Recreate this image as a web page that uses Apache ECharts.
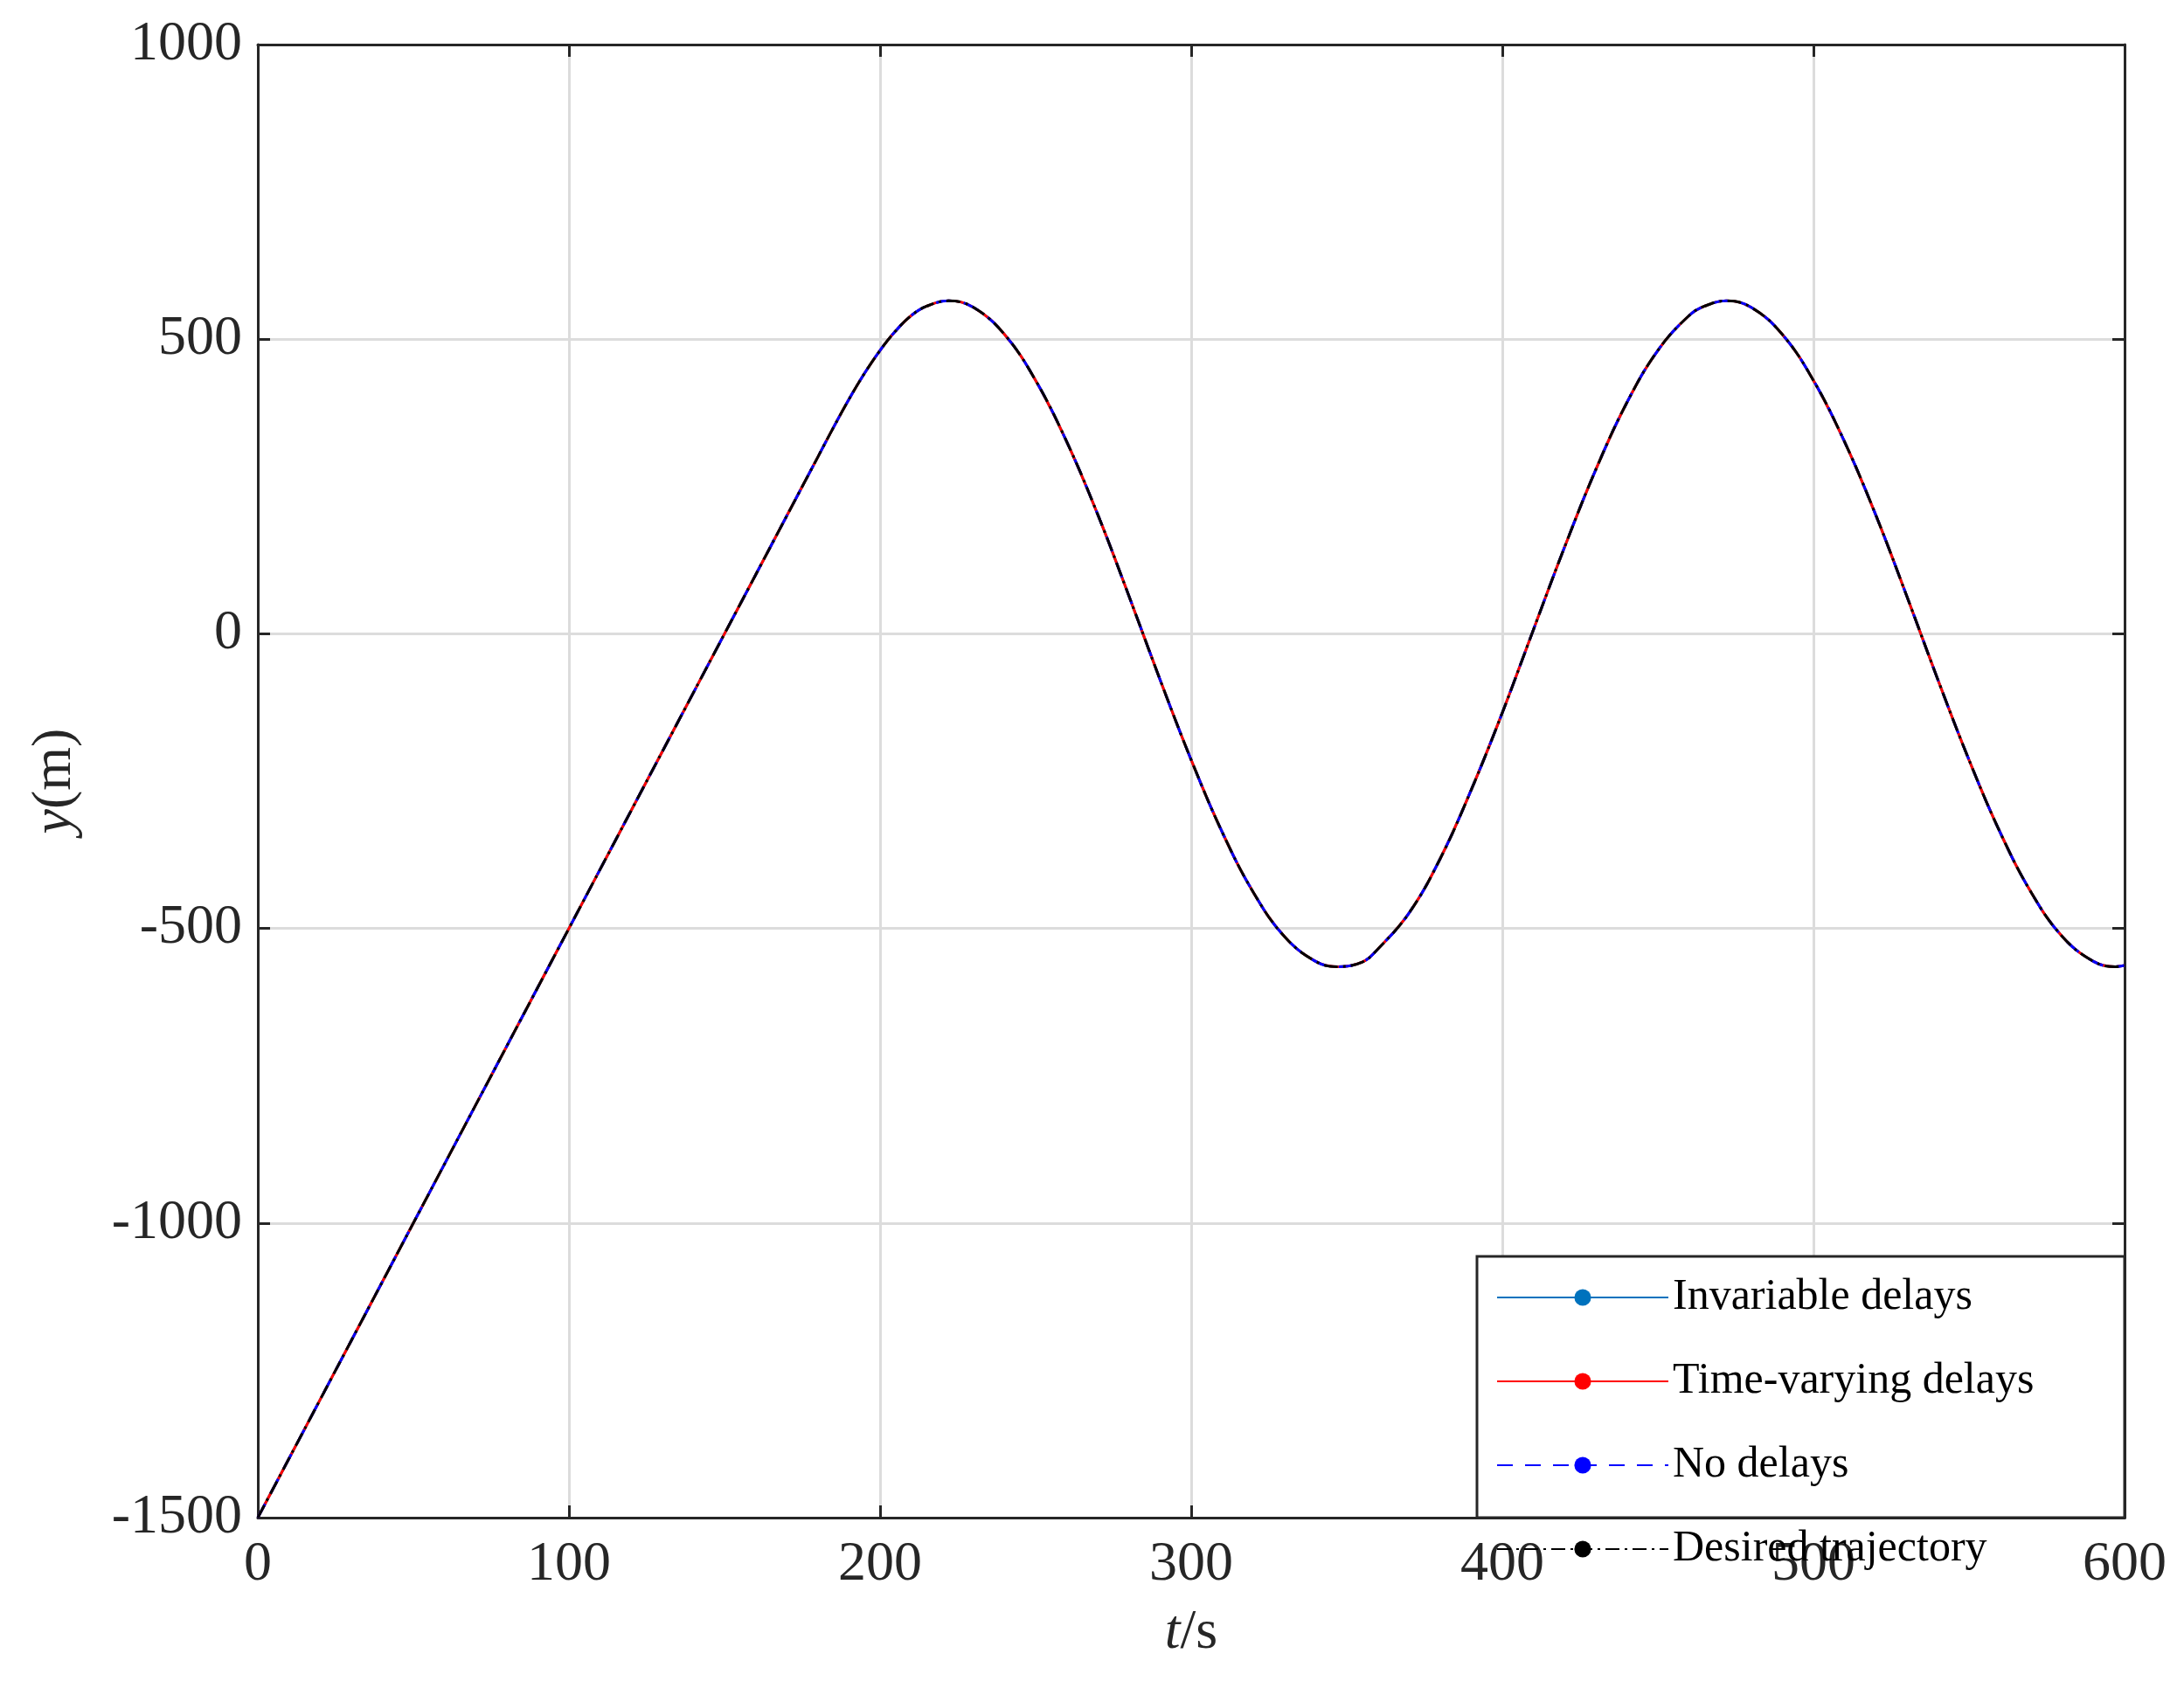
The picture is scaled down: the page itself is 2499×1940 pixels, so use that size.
<!DOCTYPE html>
<html><head><meta charset="utf-8">
<script src="https://cdn.jsdelivr.net/npm/echarts@6/dist/echarts.min.js"></script>
<style>html,body{margin:0;padding:0;background:#fff}#c{width:2499px;height:1940px}</style>
</head><body><div id="c"></div>
<script>
const seriesNames = ['Invariable delays','Time-varying delays','No delays','Desired trajectory'];
const tValues = [0,10,20,30,40,50,60,70,80,90,100,110,120,130,140,150,160,170,180,185,190,195,200,205,210,215,222,230,240,250,260,270,280,290,300,310,320,330,340,347,355,360,370,380,390,400,410,420,430,440,450,460,465,472,480,490,500,510,520,530,540,550,560,570,580,590,597,600];
const yValues = [-1500,-1400,-1300,-1200,-1100,-1000,-900,-800,-700,-600,-500,-400,-300,-200,-100,0,100,200,300,350,398,442,481,514,540,556,565,554,508,430,326,202,64,-78,-214,-337,-439,-514,-556,-565,-557,-535,-474,-382,-265,-134,7,147,278,392,481,540,556,565,554,508,430,326,202,64,-78,-214,-337,-439,-514,-556,-565,-563];
const xTicks = [0,100,200,300,400,500,600];
const yTicks = [-1500,-1000,-500,0,500,1000];
const pts = tValues.map((t,i)=>[t,yValues[i]]);
const FONT = 'Liberation Serif';
const styles = [
  {color:'#0072BD', type:'solid'},
  {color:'#FF0000', type:'solid'},
  {color:'#0000FF', type:[18,14]},
  {color:'#000000', type:[16,6,3,6]}
];
const chart = echarts.init(document.getElementById('c'));
function ax(extra){
  return Object.assign({
    axisLine:{show:true,onZero:false,lineStyle:{color:'#262626',width:3}},
    axisTick:{show:true,inside:true,length:14,lineStyle:{color:'#262626',width:3}},
  },extra);
}
const nameRich = {i:{fontFamily:FONT,fontStyle:'italic',fontSize:64,color:'#262626'},n:{fontFamily:FONT,fontSize:64,color:'#262626'}};
chart.setOption({
  backgroundColor:'#fff',
  animation:false,
  grid:{left:295,right:68,top:51,bottom:203},
  xAxis:[
    ax({type:'value',min:0,max:600,interval:100,position:'bottom',
      name:'{i|t}{n|/s}',nameLocation:'middle',nameGap:100,
      nameTextStyle:{rich:nameRich},
      axisLabel:{fontFamily:FONT,fontSize:64,color:'#262626',margin:22,formatter:v=>String(v)},
      splitLine:{show:true,lineStyle:{color:'#dcdcdc',width:3}}}),
    ax({type:'value',min:0,max:600,interval:100,position:'top',axisLabel:{show:false},splitLine:{show:false}})
  ],
  yAxis:[
    ax({type:'value',min:-1500,max:1000,interval:500,position:'left',
      name:'{i|y}{n|(m)}',nameLocation:'middle',nameGap:200,nameRotate:90,
      nameTextStyle:{rich:nameRich},
      axisLabel:{fontFamily:FONT,fontSize:64,color:'#262626',margin:18,formatter:v=>String(v)},
      splitLine:{show:true,lineStyle:{color:'#dcdcdc',width:3}}}),
    ax({type:'value',min:-1500,max:1000,interval:500,position:'right',axisLabel:{show:false},splitLine:{show:false}})
  ],
  legend:{
    orient:'vertical',left:1707,top:1455,itemWidth:196,itemHeight:24,itemGap:46,z:10,
    data:seriesNames,
    textStyle:{fontFamily:FONT,fontSize:50,color:'#000'}
  },
  graphic:[{type:'rect',z:8,shape:{x:1690,y:1438,width:741,height:299},
    style:{fill:'#fff',stroke:'#262626',lineWidth:3}}],
  series: seriesNames.map((n,i)=>({
    name:n,type:'line',data:pts,smooth:0.4,showSymbol:false,symbol:'none',
    lineStyle:{color:styles[i].color,type:styles[i].type,width:3},
    itemStyle:{color:styles[i].color},z:2+i
  }))
});
</script></body></html>
